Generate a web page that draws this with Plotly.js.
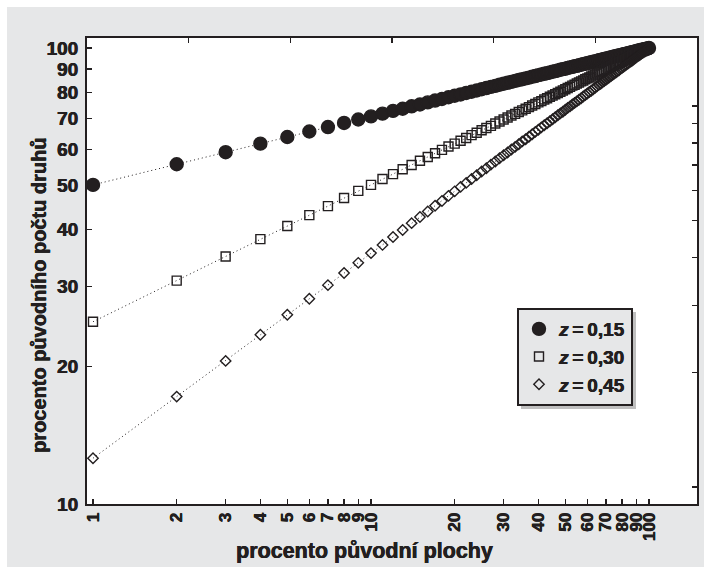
<!DOCTYPE html>
<html>
<head>
<meta charset="utf-8">
<script src="https://cdn.plot.ly/plotly-3.0.1.min.js"></script>
<style>
  html, body { margin: 0; padding: 0; background: #ffffff; }
  #chart { position: absolute; left: 7px; top: 7px; width: 697px; height: 560px; }
</style>
</head>
<body>
<div id="chart"></div>
<script>
// procento původní plochy (x)
const area = [1,2,3,4,5,6,7,8,9,10,11,12,13,14,15,16,17,18,19,20,
  21,22,23,24,25,26,27,28,29,30,31,32,33,34,35,36,37,38,39,40,
  41,42,43,44,45,46,47,48,49,50,51,52,53,54,55,56,57,58,59,60,
  61,62,63,64,65,66,67,68,69,70,71,72,73,74,75,76,77,78,79,80,
  81,82,83,84,85,86,87,88,89,90,91,92,93,94,95,96,97,98,99,100];

// procento původního počtu druhů, z = 0,15
const species015 = [50.1,55.6,59.1,61.7,63.8,65.6,67.1,68.5,69.7,70.8,
  71.8,72.8,73.6,74.5,75.2,76.0,76.7,77.3,78.0,78.6,
  79.1,79.7,80.2,80.7,81.2,81.7,82.2,82.6,83.1,83.5,
  83.9,84.3,84.7,85.1,85.4,85.8,86.1,86.5,86.8,87.2,
  87.5,87.8,88.1,88.4,88.7,89.0,89.3,89.6,89.9,90.1,
  90.4,90.7,90.9,91.2,91.4,91.7,91.9,92.2,92.4,92.6,
  92.9,93.1,93.3,93.5,93.7,94.0,94.2,94.4,94.6,94.8,
  95.0,95.2,95.4,95.6,95.8,96.0,96.2,96.3,96.5,96.7,
  96.9,97.1,97.2,97.4,97.6,97.8,97.9,98.1,98.3,98.4,
  98.6,98.8,98.9,99.1,99.2,99.4,99.5,99.7,99.8,100.0];

// z = 0,30
const species030 = [25.1,30.9,34.9,38.1,40.7,43.0,45.0,46.9,48.6,50.1,
  51.6,52.9,54.2,55.4,56.6,57.7,58.8,59.8,60.8,61.7,
  62.6,63.5,64.4,65.2,66.0,66.8,67.5,68.3,69.0,69.7,
  70.4,71.1,71.7,72.4,73.0,73.6,74.2,74.8,75.4,76.0,
  76.5,77.1,77.6,78.2,78.7,79.2,79.7,80.2,80.7,81.2,
  81.7,82.2,82.7,83.1,83.6,84.0,84.5,84.9,85.4,85.8,
  86.2,86.6,87.1,87.5,87.9,88.3,88.7,89.1,89.5,89.9,
  90.2,90.6,91.0,91.4,91.7,92.1,92.5,92.8,93.2,93.5,
  93.9,94.2,94.6,94.9,95.2,95.6,95.9,96.2,96.6,96.9,
  97.2,97.5,97.9,98.2,98.5,98.8,99.1,99.4,99.7,100.0];

// z = 0,45
const species045 = [12.6,17.2,20.6,23.5,26.0,28.2,30.2,32.1,33.8,35.5,
  37.0,38.5,39.9,41.3,42.6,43.8,45.1,46.2,47.4,48.5,
  49.6,50.6,51.6,52.6,53.6,54.5,55.5,56.4,57.3,58.2,
  59.0,59.9,60.7,61.5,62.4,63.1,63.9,64.7,65.5,66.2,
  67.0,67.7,68.4,69.1,69.8,70.5,71.2,71.9,72.5,73.2,
  73.9,74.5,75.2,75.8,76.4,77.0,77.6,78.3,78.9,79.5,
  80.1,80.6,81.2,81.8,82.4,83.0,83.5,84.1,84.6,85.2,
  85.7,86.3,86.8,87.3,87.9,88.4,88.9,89.4,90.0,90.5,
  91.0,91.5,92.0,92.5,93.0,93.4,93.9,94.4,94.9,95.4,
  95.9,96.3,96.8,97.3,97.7,98.2,98.6,99.1,99.6,100.0];

const seriesNames = ['<b><i>z</i>\u2009=\u20090,15</b>', '<b><i>z</i>\u2009=\u20090,30</b>', '<b><i>z</i>\u2009=\u20090,45</b>'];

const xTickVals = [1,2,3,4,5,6,7,8,9,10,20,30,40,50,60,70,80,90,100];
const xTickText = ['1','2','3','4','5','6','7','8','9','10','20','30','40','50','60','70','80','90','100'];
const yTickVals = [10,20,30,40,50,60,70,80,90,100];
const yTickText = ['10','20','30','40','50','60','70','80','90','100'];
const topTickVals = [1,2,3,4,5];

const INK = '#231f20';
const BG = '#e6e7e8';
const FONT = 'Liberation Sans, Arial, Helvetica, sans-serif';
const THICK = '0.4px 0 0 #231f20, -0.2px 0 0 #231f20';

const bold = function (arr) { return arr.map(function (t) { return '<b>' + t + '</b>'; }); };

const allY = [species015, species030, species045];
const symbols = ['circle', 'square-open', 'diamond-open'];
const sizes = [13, 9, 8];

const traces = [];
allY.forEach(function (ys) {
  traces.push({
    x: area, y: ys, type: 'scatter', mode: 'lines',
    line: { color: INK, width: 1, dash: '1px,3px' },
    showlegend: false, hoverinfo: 'skip'
  });
});
allY.forEach(function (ys, i) {
  traces.push({
    x: area, y: ys, type: 'scatter', mode: 'markers', name: seriesNames[i],
    marker: { symbol: symbols[i], size: sizes[i], color: INK, line: { color: INK, width: 1.4 } }
  });
});
// secondary frame axes (top / right)
traces.push({ x: [], y: [], xaxis: 'x2', yaxis: 'y2', type: 'scatter', mode: 'markers', showlegend: false, hoverinfo: 'skip' });

// legend placement (plot area is 610 x 466 px)
const PW = 610, PH = 466;
const legX = (517 - 87) / PW, legY = (504 - 308) / PH;

const layout = {
  width: 697, height: 560,
  paper_bgcolor: BG, plot_bgcolor: '#ffffff',
  margin: { l: 80, r: 7, t: 31, b: 63 },
  font: { family: FONT, color: INK },
  showlegend: true,
  legend: {
    x: legX, y: legY, xanchor: 'left', yanchor: 'top',
    bgcolor: BG, bordercolor: INK, borderwidth: 2,
    font: { family: FONT, size: 19, color: INK, shadow: THICK },
    itemwidth: 30, tracegroupgap: 0
  },
  xaxis: {
    type: 'log', range: [-0.0216, 2.1727],
    tickmode: 'array', tickvals: xTickVals, ticktext: bold(xTickText),
    tickangle: -90, ticks: 'inside', ticklen: 5, tickwidth: 1.2, tickcolor: INK,
    tickfont: { family: FONT, size: 17, color: INK, shadow: THICK },
    showline: true, linewidth: 2, linecolor: INK, mirror: false,
    showgrid: false, zeroline: false
  },
  yaxis: {
    type: 'log', range: [1, 2.022],
    tickmode: 'array', tickvals: yTickVals, ticktext: bold(yTickText),
    ticks: 'inside', ticklen: 5, tickwidth: 1.2, tickcolor: INK,
    tickfont: { family: FONT, size: 19, color: INK, shadow: THICK },
    ticklabelstandoff: 3,
    showline: true, linewidth: 2, linecolor: INK, mirror: false,
    showgrid: false, zeroline: false
  },
  xaxis2: {
    overlaying: 'x', side: 'top', anchor: 'y2', range: [0, 6],
    tickmode: 'array', tickvals: topTickVals, ticks: 'inside', ticklen: 5, tickwidth: 1.2, tickcolor: INK,
    showticklabels: false, showline: true, linewidth: 2, linecolor: INK,
    showgrid: false, zeroline: false, fixedrange: true
  },
  yaxis2: {
    overlaying: 'y', side: 'right', anchor: 'x2', type: 'log', range: [0.9554, 2.1785],
    tickmode: 'array', tickvals: yTickVals, ticks: 'inside', ticklen: 5, tickwidth: 1.2, tickcolor: INK,
    showticklabels: false, showline: true, linewidth: 2, linecolor: INK,
    showgrid: false, zeroline: false, fixedrange: true
  },
  shapes: [],
  annotations: [
    {
      text: '<b>procento původní plochy</b>', xref: 'paper', yref: 'paper',
      x: (364 - 87) / PW, y: (504 - 551) / PH, xanchor: 'center', yanchor: 'middle',
      showarrow: false, font: { family: FONT, size: 21.5, color: INK, shadow: THICK }
    },
    {
      text: '<b>procento původního počtu druhů</b>', xref: 'paper', yref: 'paper',
      x: (39 - 87) / PW, y: (504 - 295) / PH, xanchor: 'center', yanchor: 'middle',
      textangle: -90, showarrow: false, font: { family: FONT, size: 20, color: INK, shadow: THICK }
    }
  ]
};

Plotly.newPlot('chart', traces, layout, { displayModeBar: false, staticPlot: true }).then(function (gd) {
  // drop shadow behind the legend box, sized to the drawn legend
  const bg = gd.querySelector('.legend .bg');
  if (!bg) return;
  const w = parseFloat(bg.getAttribute('width')) || 112;
  const h = parseFloat(bg.getAttribute('height')) || 86;
  return Plotly.relayout(gd, {
    shapes: [{
      type: 'rect', xref: 'paper', yref: 'paper', layer: 'above',
      x0: legX + 4 / PW, x1: legX + (w + 5) / PW,
      y0: legY - (h + 5) / PH, y1: legY - 4 / PH,
      fillcolor: 'rgba(0,0,0,0.25)', line: { width: 0 }
    }]
  });
});
</script>
</body>
</html>
